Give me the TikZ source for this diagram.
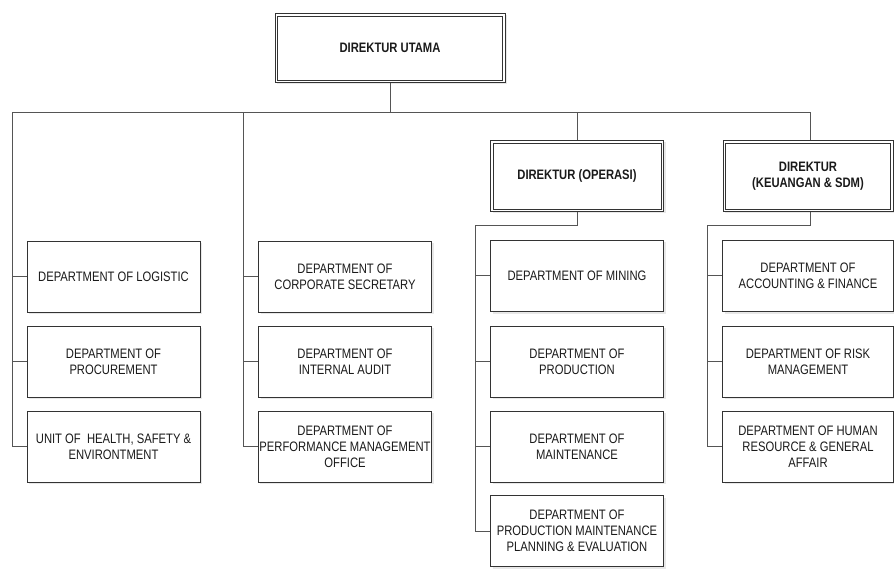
\documentclass[tikz,border=0pt]{standalone}
\usepackage{fontspec}
\setmainfont{Liberation Sans}[FakeStretch=0.82]
\usetikzlibrary{shadows}
\definecolor{linec}{HTML}{555555}
\definecolor{boxc}{HTML}{333333}
\definecolor{txtc}{HTML}{1A1A1A}
\tikzset{
  dept/.style={draw=boxc, line width=0.9pt, fill=white, minimum width=173pt, minimum height=71pt,
    align=center, text=txtc, font=\fontsize{13.7}{16}\selectfont, inner sep=1pt,
    drop shadow={opacity=0.18, shadow xshift=2pt, shadow yshift=-2pt}},
  dir/.style={draw=boxc, line width=0.8pt, fill=white,
    align=center, text=txtc, font=\fontsize{13.7}{16}\selectfont\bfseries,
    drop shadow={opacity=0.18, shadow xshift=2pt, shadow yshift=-2pt}},
  inner/.style={draw=boxc, line width=0.7pt},
  conn/.style={draw=linec, line width=1pt},
}
\begin{document}
\begin{tikzpicture}[x=1pt,y=-1pt]
\useasboundingbox (0,0) rectangle (894,569);
\fill[white] (0,0) rectangle (894,569);
% directors
\node[dir, minimum width=230pt, minimum height=69pt] (top) at (390,48) {DIREKTUR UTAMA};
\node[dir, minimum width=173pt, minimum height=71pt] (ops) at (577,176) {DIREKTUR (OPERASI)};
\node[dir, minimum width=170pt, minimum height=71pt] (keu) at (808,176) {DIREKTUR\\(KEUANGAN \& SDM)};
\foreach \n in {top,ops,keu}
  \draw[inner] ([xshift=3pt,yshift=-3pt]\n.north west) rectangle ([xshift=-3pt,yshift=3pt]\n.south east);
% column 1
\node[dept] (log) at (113.5,276.5) {DEPARTMENT OF LOGISTIC};
\node[dept] (proc) at (113.5,361.5) {DEPARTMENT OF\\PROCUREMENT};
\node[dept] (hse) at (113.5,446.5) {UNIT OF~ HEALTH, SAFETY \&\\ENVIRONTMENT};
% column 2
\node[dept] (corp) at (345,276.5) {DEPARTMENT OF\\CORPORATE SECRETARY};
\node[dept] (aud) at (345,361.5) {DEPARTMENT OF\\INTERNAL AUDIT};
\node[dept] (perf) at (345,446.5) {DEPARTMENT OF\\PERFORMANCE MANAGEMENT\\OFFICE};
% column 3
\node[dept] (min) at (577,276) {DEPARTMENT OF MINING};
\node[dept] (prod) at (577,361.5) {DEPARTMENT OF\\PRODUCTION};
\node[dept] (mnt) at (577,446.5) {DEPARTMENT OF\\MAINTENANCE};
\node[dept] (pmpe) at (577,531) {DEPARTMENT OF\\PRODUCTION MAINTENANCE\\PLANNING \& EVALUATION};
% column 4
\node[dept, minimum width=171pt] (acc) at (808,276) {DEPARTMENT OF\\ACCOUNTING \& FINANCE};
\node[dept, minimum width=171pt] (risk) at (808,361.5) {DEPARTMENT OF RISK\\MANAGEMENT};
\node[dept, minimum width=171pt] (hr) at (808,446.5) {DEPARTMENT OF HUMAN\\RESOURCE \& GENERAL\\AFFAIR};
% bus coordinates
\coordinate (busL) at (12,113);
\coordinate (busR) at (810,113);
\coordinate (c2) at (243,113);
\coordinate (c3) at (475,226);
\coordinate (c4) at (707,226);
% connectors
\draw[conn] (top.south) -- (top.south |- busL);
\draw[conn] (busL |- hse.west) -- (busL) -- (busR) -- (keu.north -| busR);
\draw[conn] (ops.north |- busL) -- (ops.north);
\draw[conn] (busL |- log.west) -- (log.west);
\draw[conn] (busL |- proc.west) -- (proc.west);
\draw[conn] (busL |- hse.west) -- (hse.west);
\draw[conn] (c2) -- (c2 |- perf.west) -- (perf.west);
\draw[conn] (c2 |- corp.west) -- (corp.west);
\draw[conn] (c2 |- aud.west) -- (aud.west);
\draw[conn] (ops.south) -- (ops.south |- c3) -- (c3) -- (c3 |- pmpe.west) -- (pmpe.west);
\draw[conn] (c3 |- min.west) -- (min.west);
\draw[conn] (c3 |- prod.west) -- (prod.west);
\draw[conn] (c3 |- mnt.west) -- (mnt.west);
\draw[conn] (keu.south -| busR) -- (busR |- c4) -- (c4) -- (c4 |- hr.west) -- (hr.west);
\draw[conn] (c4 |- acc.west) -- (acc.west);
\draw[conn] (c4 |- risk.west) -- (risk.west);
\end{tikzpicture}
\end{document}
